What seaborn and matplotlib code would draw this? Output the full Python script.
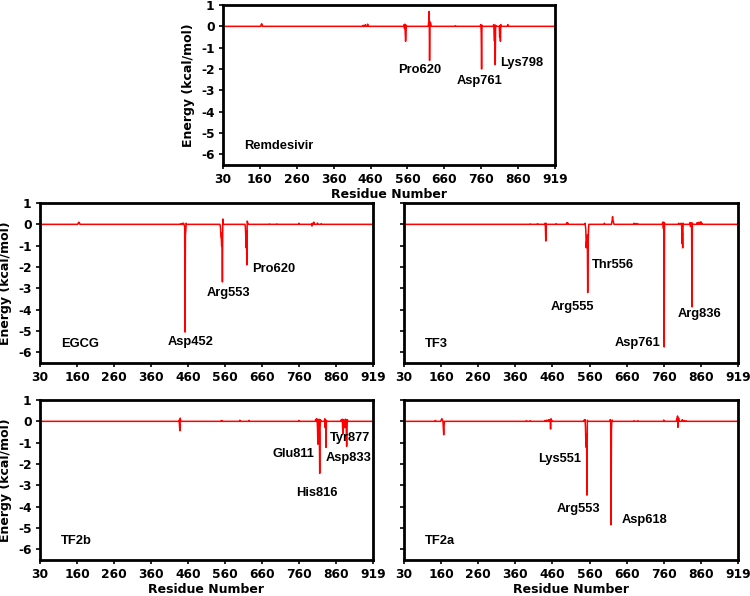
import numpy as np
import pandas as pd
import matplotlib
matplotlib.use("Agg")
import matplotlib.pyplot as plt
import seaborn as sns

sns.set_style("ticks")
plt.rcParams["font.family"] = ["DejaVu Sans"]
plt.rcParams["font.weight"] = "bold"
plt.rcParams["axes.unicode_minus"] = False
for key in ["text.color", "axes.labelcolor", "xtick.color", "ytick.color", "axes.edgecolor"]:
    plt.rcParams[key] = "black"

# residue axis (ticks are evenly spaced in the original figure)
tick_vals = [30, 160, 260, 360, 460, 560, 660, 760, 860, 919]
tick_pos = np.arange(len(tick_vals))
residues = np.arange(30, 920)

# per-residue energies (kcal/mol) that differ from zero
remdesivir_res = [163, 164, 165, 166, 440, 446, 452, 453, 551, 552, 553, 554, 555, 556, 557,
                  617, 618, 619, 620, 621, 622, 623, 624, 690, 758, 759, 760, 761, 762,
                  793, 794, 795, 796, 797, 798, 799, 810, 811, 812, 813, 832, 833]
remdesivir_e = [0.05, 0.1, 0.12, 0.08, 0.05, 0.08, 0.1, 0.06, 0.08, -0.1, 0.1, -0.3, -0.7, -0.4, 0.05,
                0.1, 0.3, 0.7, -1.6, 0.2, 0.2, 0.15, 0.05, 0.03, 0.05, 0.08, -0.3, -2.0, 0.05,
                0.05, 0.08, -0.3, -0.7, 0.05, -1.8, 0.05, -0.5, 0.05, -0.7, 0.08, 0.08, 0.05]

egcg_res = [163, 164, 165, 166, 167, 440, 445, 448, 450, 451, 452, 453, 454, 455,
            547, 548, 549, 550, 551, 552, 553, 554, 555, 615, 616, 617, 618, 619, 620, 621, 622,
            680, 700, 760, 795, 796, 800, 801, 810, 820]
egcg_e = [0.05, 0.08, 0.1, 0.08, 0.05, 0.03, 0.05, 0.05, -0.05, -0.1, -5.05, -0.5, -0.3, 0.05,
          -0.05, -0.2, -0.6, -0.65, -1.0, -0.4, -2.7, 0.25, 0.05, -0.1, -0.5, -1.1, -0.3, -1.9, 0.15, 0.1, 0.05,
          0.02, 0.02, 0.05, -0.08, 0.05, 0.1, 0.05, 0.06, 0.03]

tf3_res = [400, 420, 440, 441, 442, 443, 470, 498, 500, 502,
           548, 549, 550, 551, 552, 553, 554, 555, 556, 557, 600, 620, 621, 622, 623, 624, 625,
           680, 685, 690, 757, 758, 759, 760, 761, 762, 800, 805, 808, 809, 810, 811, 812,
           830, 831, 832, 833, 834, 835, 836, 837, 850, 855, 858, 860, 862]
tf3_e = [0.02, 0.03, 0.05, -0.1, -0.78, 0.05, 0.03, 0.05, 0.08, 0.05,
         0.05, -0.1, -0.3, -1.1, -0.8, -0.9, -0.5, -3.2, -1.0, -0.4, 0.05, 0.1, 0.2, 0.36, 0.2, 0.15, 0.05,
         0.05, 0.04, 0.03, 0.1, 0.08, -0.2, 0.1, -5.75, 0.05, 0.05, 0.04, 0.05, -0.9, -0.4, -1.1, 0.05,
         0.06, 0.08, -0.1, 0.05, 0.07, -0.2, -3.87, 0.06, 0.08, 0.1, 0.06, 0.12, 0.05]

tf2b_res = [436, 437, 438, 439, 440, 550, 552, 600, 625, 760,
            805, 806, 808, 809, 810, 811, 812, 813, 814, 815, 816, 817, 818,
            829, 830, 831, 832, 833, 834, 868, 870, 871, 872, 874, 875, 876, 877, 878]
tf2b_e = [0.05, -0.2, -0.44, 0.15, 0.05, 0.04, 0.03, 0.05, 0.04, 0.04,
          0.08, 0.1, 0.12, 0.05, -0.3, -1.07, -0.5, -1.0, 0.1, -0.6, -2.44, -0.3, 0.08,
          0.05, 0.12, -0.3, 0.05, -1.22, 0.05, 0.06, 0.1, -0.6, 0.08, -0.3, 0.1, 0.05, -1.17, 0.08]

tf2a_res = [140, 160, 161, 162, 163, 164, 166, 167, 168, 390, 400, 440, 445, 450, 452, 455, 456, 458,
            545, 548, 549, 550, 551, 552, 553, 554, 615, 616, 617, 618, 619, 620, 621,
            680, 690, 760, 795, 797, 798, 800, 801, 810, 815, 820]
tf2a_e = [0.04, 0.05, 0.08, 0.12, 0.1, 0.05, -0.3, -0.63, -0.2, 0.03, 0.03, 0.04, 0.06, 0.08, 0.05, -0.36, 0.12, 0.05,
          0.05, 0.08, -0.3, -1.0, -1.22, -0.6, -3.46, 0.05, 0.05, 0.08, -0.1, -4.85, -0.4, 0.05, 0.06,
          0.03, 0.03, 0.06, 0.1, 0.25, -0.28, 0.15, 0.05, 0.08, 0.04, 0.03]

panels = [
    ("Remdesivir", remdesivir_res, remdesivir_e,
     [("Pro620", 0.591, 0.594), ("Asp761", 0.774, 0.525), ("Lys798", 0.901, 0.639)]),
    ("EGCG", egcg_res, egcg_e,
     [("Asp452", 0.453, 0.129), ("Arg553", 0.565, 0.44), ("Pro620", 0.703, 0.59)]),
    ("TF3", tf3_res, tf3_e,
     [("Thr556", 0.627, 0.61), ("Arg555", 0.504, 0.35), ("Asp761", 0.70, 0.126), ("Arg836", 0.886, 0.305)]),
    ("TF2b", tf2b_res, tf2b_e,
     [("Glu811", 0.761, 0.66), ("Tyr877", 0.931, 0.76), ("Asp833", 0.926, 0.635), ("His816", 0.831, 0.42)]),
    ("TF2a", tf2a_res, tf2a_e,
     [("Lys551", 0.467, 0.63), ("Arg553", 0.522, 0.317), ("Asp618", 0.719, 0.25)]),
]

# axes boxes: left, bottom (pixels), width, show y tick labels, show x label
W, H = 750, 596
boxes = [
    (223, 165, 332, True, True),
    (40, 363, 333, True, False),
    (404, 363, 334, False, False),
    (40, 560, 333, True, True),
    (404, 560, 334, False, True),
]


def fwd(x):
    return np.interp(x, tick_vals, tick_pos)


def inv(x):
    return np.interp(x, tick_pos, tick_vals)


fig = plt.figure(figsize=(7.5, 5.96), dpi=100)

for (name, res, en, labels), (left, bottom, width, show_y, show_xl) in zip(panels, boxes):
    ax = fig.add_axes([left / W, (H - bottom) / H, width / W, 160 / H])
    energy = pd.Series(0.0, index=residues)
    energy.loc[res] = en
    df = pd.DataFrame({"Residue": residues, "Energy": energy.values})
    sns.lineplot(data=df, x="Residue", y="Energy", ax=ax, color="red", linewidth=1.1)
    ax.set_xscale("function", functions=(fwd, inv))
    ax.set_xlim(30, 919)
    ax.set_ylim(-6.5, 1)
    ax.set_xticks(tick_vals)
    ax.set_xticklabels([str(v) for v in tick_vals])
    ax.set_yticks(range(-6, 2))
    ax.minorticks_off()
    ax.tick_params(direction="out", length=3, width=1.2, labelsize=8.8, pad=3)
    for s in ax.spines.values():
        s.set_linewidth(2)
    if show_y:
        ax.set_ylabel("Energy (kcal/mol)", fontsize=9, fontweight="bold", labelpad=4)
    else:
        ax.set_ylabel("")
        ax.set_yticklabels([])
    if show_xl:
        ax.set_xlabel("Residue Number", fontsize=9, fontweight="bold", labelpad=1)
    else:
        ax.set_xlabel("")
    ax.text(0.063, 0.12, name, transform=ax.transAxes, ha="left", va="center",
            fontsize=9.3, fontweight="bold", family="Liberation Sans")
    for txt, fx, fy in labels:
        ax.text(fx, fy, txt, transform=ax.transAxes, ha="center", va="center",
                fontsize=9.3, fontweight="bold", family="Liberation Sans")

fig.savefig("out.png", dpi=100)
